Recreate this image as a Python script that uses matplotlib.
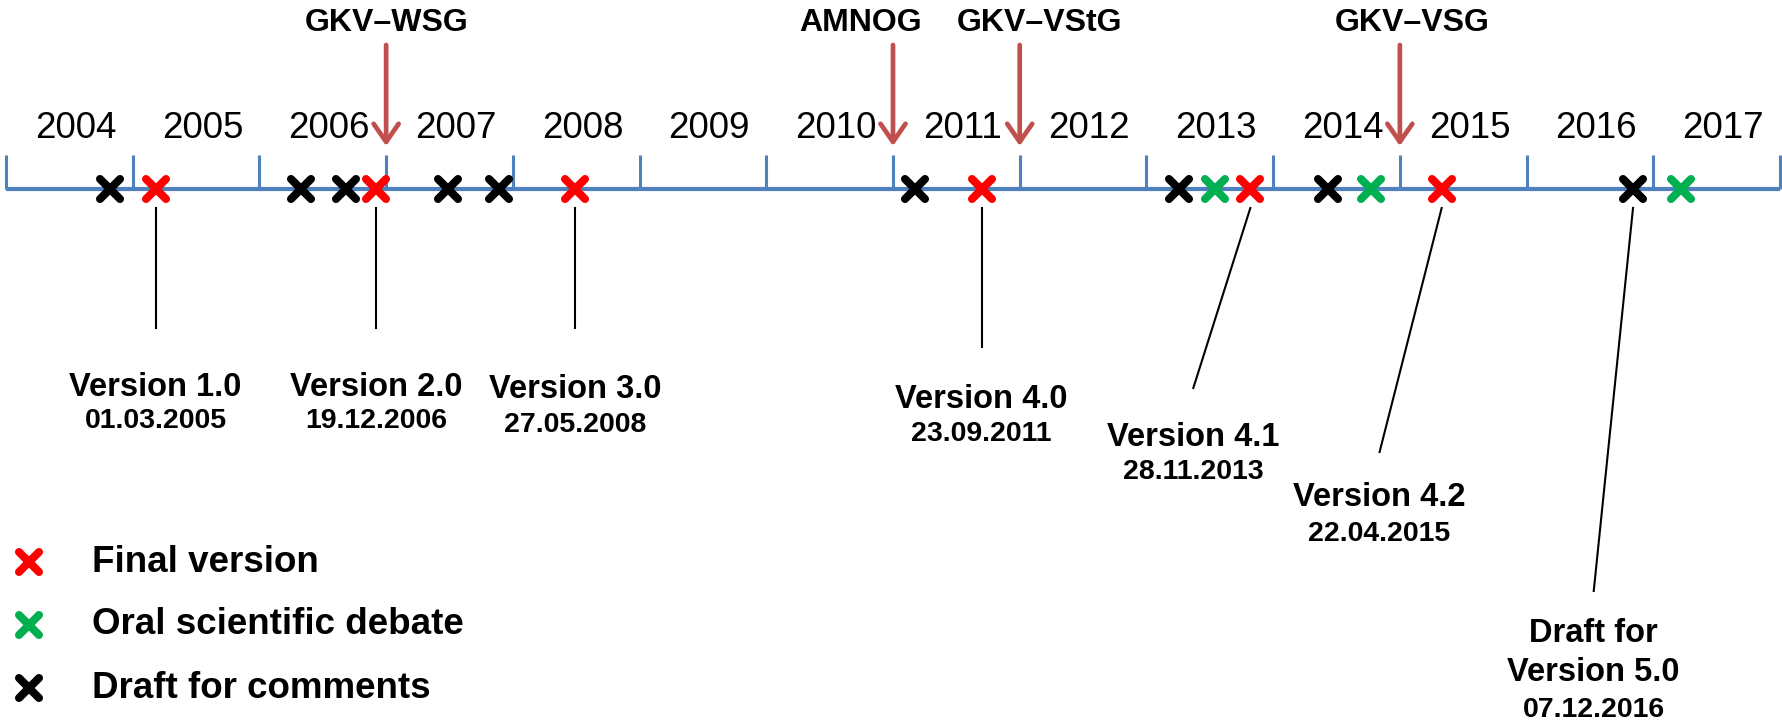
import matplotlib
matplotlib.use("Agg")
import matplotlib.pyplot as plt
from matplotlib.markers import MarkerStyle

plt.rcParams['font.family'] = ['Liberation Sans', 'DejaVu Sans']

# years on the timeline
years = list(range(2004, 2018))

# events, as fractional years
draft_dates = [2004.82, 2006.33, 2006.68, 2007.49, 2007.89, 2011.17, 2013.26, 2014.43, 2016.84]
final_dates = [2005.18, 2006.92, 2008.49, 2011.70, 2013.82, 2015.33]
debate_dates = [2013.54, 2014.77, 2017.22]

# laws (arrows)
law_names = ["GKV–WSG", "AMNOG", "GKV–VStG", "GKV–VSG"]
law_dates = [2007.0, 2011.0, 2012.0, 2015.0]

# labelled versions
version_titles = ["Version 1.0", "Version 2.0", "Version 3.0", "Version 4.0",
                  "Version 4.1", "Version 4.2", "Draft for\nVersion 5.0"]
version_dates = ["01.03.2005", "19.12.2006", "27.05.2008", "23.09.2011",
                 "28.11.2013", "22.04.2015", "07.12.2016"]
version_marks = [2005.18, 2006.92, 2008.49, 2011.70, 2013.82, 2015.33, 2016.84]

legend_labels = ["Final version", "Oral scientific debate", "Draft for comments"]

# layout (pixels, y downwards; label x in years, None = straight below the mark)
law_label_dx = [0.0, -0.26, 0.16, 0.1]
label_x = [None, None, None, None, 2013.37, 2014.84, 2016.53]
title_y = [387, 387, 389, 400, 437, 497, 653]
date_y = [421, 421, 425, 434, 472, 534, 710]
line_bottom = [328, 328, 328, 347, 388, 452, 591]

blue = "#4F81BD"
arrow_red = "#C0504D"

W, H = 1783, 727
fig = plt.figure(figsize=(W / 100, H / 100), dpi=100)
ax = fig.add_axes([0, 0, 1, 1])
px_per_year = (1780 - 6) / 14
x0 = 2004 - 6 / px_per_year
ax.set_xlim(x0, x0 + W / px_per_year)
ax.set_ylim(H, 0)
ax.axis("off")

line_y = 189
tick_top = 155

# timeline
ax.plot([years[0], years[-1] + 1], [line_y, line_y], color=blue, lw=3, solid_capstyle="butt", zorder=1)
ax.vlines(years + [years[-1] + 1], tick_top, line_y, color=blue, lw=2.2, zorder=1)
for yr in years:
    ax.text(yr + 0.55, 129, str(yr), ha="center", va="center", fontsize=26.5)

xm = MarkerStyle("x", capstyle="round")
mk = dict(marker=xm, ms=14, mew=5.8, ls="none", zorder=3)
ax.plot(draft_dates, [line_y] * len(draft_dates), color="black", **mk)
ax.plot(final_dates, [line_y] * len(final_dates), color="#FF0000", **mk)
ax.plot(debate_dates, [line_y] * len(debate_dates), color="#00B050", **mk)

# law arrows
for name, d, ldx in zip(law_names, law_dates, law_label_dx):
    ax.annotate("", xy=(d, 146), xytext=(d, 45),
                arrowprops=dict(arrowstyle="->,head_length=0.65,head_width=0.45",
                                color=arrow_red, lw=3.4, mutation_scale=20, shrinkA=0, shrinkB=0),
                zorder=2)
    ax.text(d + ldx, 23, name, ha="center", va="center", fontsize=23, fontweight="bold")

# version labels
for t, dt, m, lx, ty, dy, lb in zip(version_titles, version_dates, version_marks,
                                     label_x, title_y, date_y, line_bottom):
    if lx is None:
        lx = m
    ax.plot([m, lx], [208, lb], color="black", lw=1.5, zorder=2)
    ax.text(lx, ty, t, ha="center", va="center", fontsize=23.5, fontweight="bold",
            linespacing=1.35)
    ax.text(lx, dy, dt, ha="center", va="center", fontsize=20.5, fontweight="bold")

# legend
leg_colors = ["#FF0000", "#00B050", "black"]
leg_y = [562, 625, 688]
lx_mark = x0 + 29 / px_per_year
lx_text = x0 + 92 / px_per_year
for lab, c, yy in zip(legend_labels, leg_colors, leg_y):
    ax.plot([lx_mark], [yy], color=c, **mk)
    ax.text(lx_text, yy, lab, ha="left", va="center", fontsize=26.5, fontweight="bold")

fig.savefig("out.png", dpi=100)
